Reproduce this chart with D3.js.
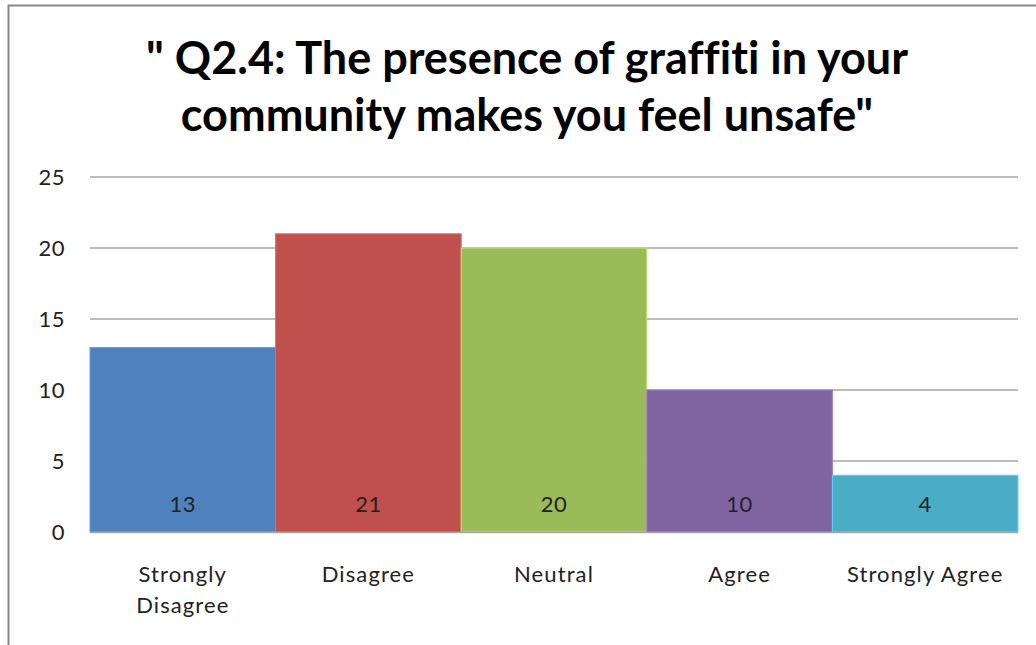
<!DOCTYPE html>
<html><head><meta charset="utf-8">
<script src="https://cdn.jsdelivr.net/npm/d3@7"></script>
<style>body{margin:0;background:#fff;}svg{display:block;} text{font-variant-ligatures:none;}</style>
</head><body>
<svg id="c" width="1036" height="645"></svg>
<script>
const categories = ["Strongly Disagree", "Disagree", "Neutral", "Agree", "Strongly Agree"];
const values = [13, 21, 20, 10, 4];
const colors = ["#4F81BD", "#C0504D", "#9BBB59", "#8064A2", "#4BACC6"];
const yTicks = [0, 5, 10, 15, 20, 25];
const titleLines = ["\" Q2.4: The presence of graffiti in your", "community makes you feel unsafe\""];

const svg = d3.select("#c");
const font = "Lato, 'Open Sans', sans-serif";

// frame
svg.append("rect").attr("x", 8.5).attr("y", 5.5).attr("width", 1100).attr("height", 700)
  .attr("fill", "#fff").attr("stroke", "#878787").attr("stroke-width", 2);
svg.append("text").attr("x", 36).attr("y", -6).attr("font-family", font).attr("font-size", 22)
  .attr("font-weight", "bold").text("g");

const x = d3.scaleBand().domain(categories).range([90, 1018]).paddingInner(0).paddingOuter(0);
const y = d3.scaleLinear().domain([0, 25]).range([532, 177]);

// gridlines
svg.append("g").selectAll("line").data(yTicks.filter(d => d > 0)).join("line")
  .attr("x1", 90).attr("x2", 1018).attr("y1", d => y(d)).attr("y2", d => y(d))
  .attr("stroke", "#a6a6a6").attr("stroke-width", 1.3);

// y tick labels
svg.append("g").selectAll("text").data(yTicks).join("text")
  .attr("x", 65).attr("y", d => y(d)).attr("dy", "0.36em").attr("text-anchor", "end")
  .attr("font-family", font).attr("font-size", 22).attr("letter-spacing", 0.5).attr("fill", "#222").text(d => d);

// bars
svg.append("g").selectAll("rect").data(values).join("rect")
  .attr("x", (d, i) => x(categories[i])).attr("width", x.bandwidth())
  .attr("y", d => y(d)).attr("height", d => y(0) - y(d))
  .attr("fill", (d, i) => colors[i])
  .attr("stroke", (d, i) => d3.color(colors[i]).brighter(0.6)).attr("stroke-width", 1);

// axis line
svg.append("line").attr("x1", 90).attr("x2", 1018).attr("y1", y(0) + 0.5).attr("y2", y(0) + 0.5)
  .attr("stroke", "#a6a6a6").attr("stroke-width", 1.5);

// value labels
svg.append("g").selectAll("text").data(values).join("text")
  .attr("x", (d, i) => x(categories[i]) + x.bandwidth() / 2).attr("y", 512)
  .attr("text-anchor", "middle").attr("font-family", font).attr("font-size", 22).attr("letter-spacing", 0.5).attr("fill", "#222")
  .text(d => d);

// category labels
const cl = svg.append("g").selectAll("text").data(categories).join("text")
  .attr("x", d => x(d) + x.bandwidth() / 2).attr("y", 582)
  .attr("text-anchor", "middle").attr("font-family", font).attr("font-size", 22)
  .attr("letter-spacing", 1.1).attr("fill", "#222");
cl.each(function(d) {
  const t = d3.select(this);
  const parts = d === "Strongly Disagree" ? ["Strongly", "Disagree"] : [d];
  parts.forEach((p, i) => t.append("tspan").attr("x", x(d) + x.bandwidth() / 2).attr("dy", i ? 31 : 0).text(p));
});

// title
svg.append("g").selectAll("text").data(titleLines).join("text")
  .attr("x", 527).attr("y", (d, i) => 74 + i * 57).attr("text-anchor", "middle")
  .attr("font-family", font).attr("font-size", 45).attr("font-weight", "bold").attr("fill", "#000")
  .text(d => d);
</script>
</body></html>
